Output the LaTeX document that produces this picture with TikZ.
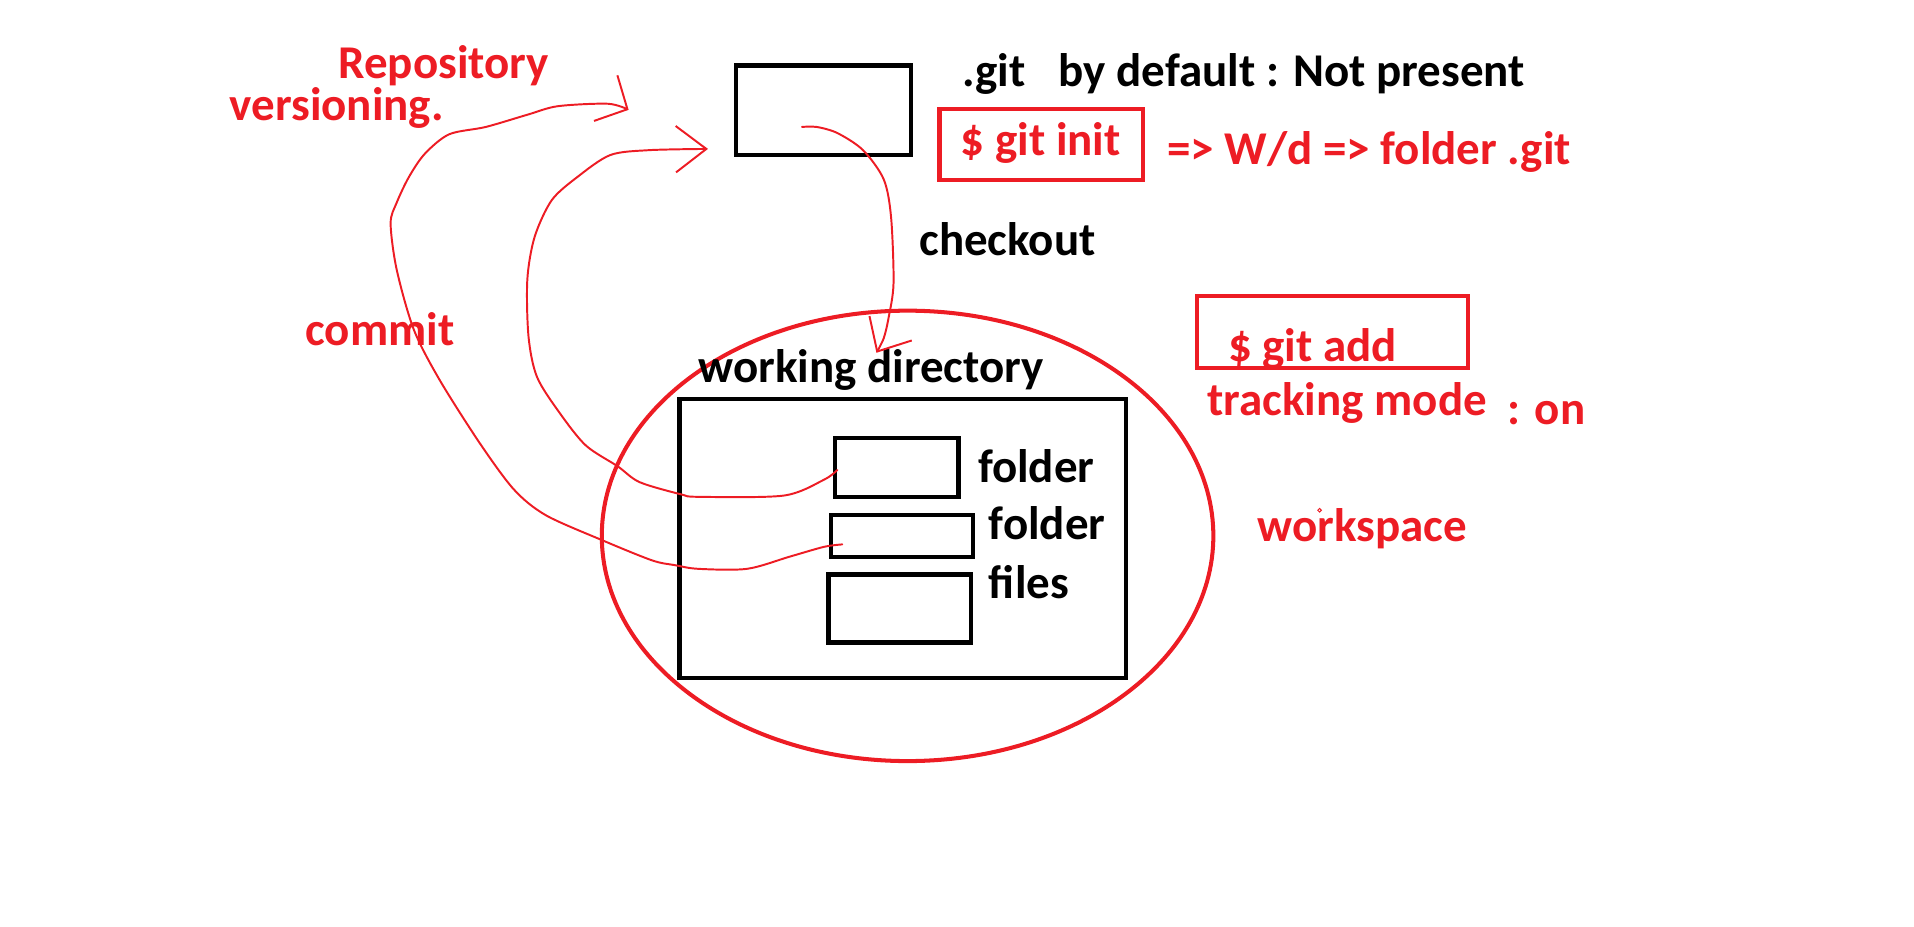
\documentclass[tikz,border=0pt]{standalone}
\usepackage{fontspec}
\setmainfont{Carlito}
\usetikzlibrary{arrows.meta}
\definecolor{paintred}{HTML}{ED1C24}

\tikzset{
  box/.style={draw=black, line width=3.5pt, inner sep=0pt},
  redbox/.style={draw=paintred, line width=3.3pt, inner sep=0pt},
  txt/.style={anchor=base west, inner sep=0pt, font=\fontsize{38.5}{46}\selectfont\bfseries},
  redtxt/.style={txt, text=paintred},
  stroke/.style={draw=paintred, line width=1.6pt, line join=round, line cap=round}
}

\begin{document}
\begin{tikzpicture}[x=1pt, y=-1pt]
    \useasboundingbox (0,0) rectangle (1568,759);

    % Repository (.git)
    \node[box, minimum width=143.5pt, minimum height=73.5pt] (repo) at (674.5,90.5) {};
    \node[txt] (dotgit) at (788,71) {.git};
    \node[txt] (default) at (867,71) {by default : Not present};
    \node[redbox, minimum width=166.7pt, minimum height=57.7pt] (initbox) at (853,118.5) {};
    \node[redtxt] (init) at (787,127) {\$ git init};
    \node[redtxt] (initres) at (956,135) {=> W/d => folder .git};
    \node[redtxt] (repolbl) at (277,64) {Repository};
    \node[redtxt] (verlbl) at (188,99) {versioning.};

    % Workspace
    \draw[paintred, line width=3.3pt] (743.5,439) ellipse [x radius=250.5, y radius=184.5];
    \node[txt] (wd) at (572,313) {working directory};
    \node[box, minimum width=365.5pt, minimum height=228.5pt] (wdbox) at (739.5,441) {};
    \node[box, minimum width=101.5pt, minimum height=48.5pt] (box1) at (734.5,383) {};
    \node[box, minimum width=116.5pt, minimum height=34.5pt] (box2) at (739,439) {};
    \node[box, minimum width=116.5pt, minimum height=55.5pt] (box3) at (737,498.5) {};
    \node[txt] (folder1) at (801,395) {folder};
    \node[txt] (folder2) at (810,442) {folder};
    \node[txt] (files) at (810,490) {files};

    % git add
    \node[redbox, minimum width=221.7pt, minimum height=58.7pt] (addbox) at (1091.5,272) {};
    \node[redtxt] (add) at (1006,296) {\$ git add};
    \node[redtxt] (track) at (989,340) {tracking mode};
    \node[redtxt] (on) at (1235,348) {: on};
    \node[redtxt] (wslbl) at (1030,444) {workspace};
    \draw[paintred, line width=0.8pt] (1081,418) circle (1.5);

    % checkout / commit strokes
    \node[txt] (checkout) at (753,209) {checkout};
    \node[redtxt] (commit) at (250,283) {commit};
    \coordinate (co-start) at (657,104);
    \coordinate (co-end) at (718,289);
    \coordinate (ca-start) at (690,446);
    \coordinate (ca-end) at (515,90);
    \coordinate (cb-start) at (686,385);
    \coordinate (cb-end) at (580,122);
    \draw[stroke, -{Straight Barb[length=22pt, width=40pt]}] plot[smooth, tension=0.5] coordinates {(co-start) (669,104) (686,109) (707,123) (724,147) (730,178) (732,232) (728,260) (724,277) (co-end)};
    \draw[stroke, -{Straight Barb[length=20pt, width=42pt]}] plot[smooth, tension=0.5] coordinates {(ca-start) (675,448) (647,456) (612,466) (572,466) (553,463) (534,459) (492,442) (447,422) (421,401) (393,363) (360,311) (339,270) (325,221) (320,183) (325,166) (335,145) (348,126) (368,110) (398,104) (432,94) (457,87) (498,85) (ca-end)};
    \draw[stroke, -{Straight Barb[length=25pt, width=38pt]}] plot[smooth, tension=0.5] coordinates {(cb-start) (675,393) (642,406) (572,407) (558,405) (524,395) (506,382) (480,365) (459,339) (440,309) (433,276) (432,229) (438,194) (452,164) (473,145) (500,127) (532,123) (cb-end)};
\end{tikzpicture}
\end{document}
